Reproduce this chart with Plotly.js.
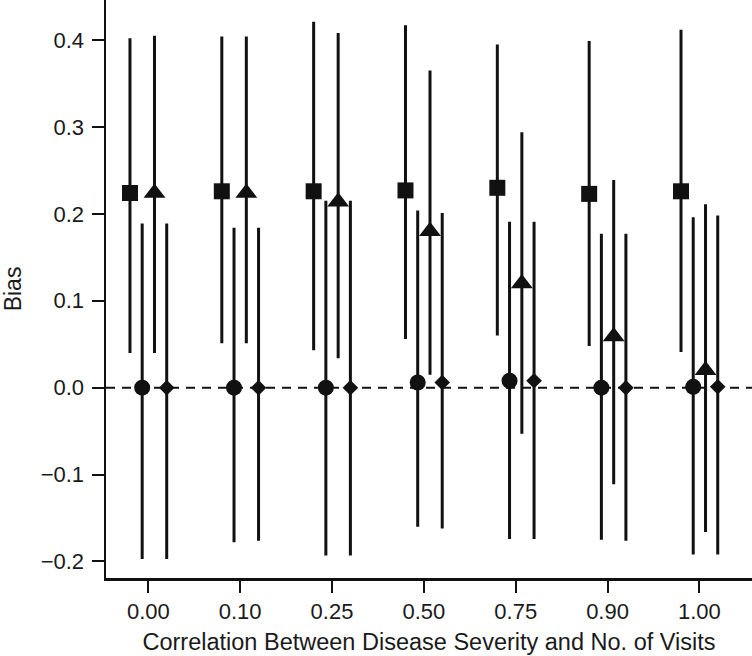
<!DOCTYPE html>
<html>
<head>
<meta charset="utf-8">
<script src="https://cdn.plot.ly/plotly-3.0.1.min.js"></script>
<style>
  html, body { margin: 0; padding: 0; background: #fff; }
  #myDiv { width: 752px; height: 656px; }
</style>
</head>
<body>
<div id="myDiv"></div>
<script>
// correlation levels (x categories)
var categories = ['0.00', '0.10', '0.25', '0.50', '0.75', '0.90', '1.00'];

// square series
var sqBias  = [0.224, 0.226, 0.226, 0.227, 0.230, 0.223, 0.226];
var sqUpper = [0.402, 0.404, 0.421, 0.417, 0.395, 0.399, 0.412];
var sqLower = [0.040, 0.051, 0.043, 0.056, 0.060, 0.048, 0.041];

// circle series
var ciBias  = [0.000, 0.000, 0.000, 0.006, 0.008, 0.000, 0.001];
var ciUpper = [0.189, 0.184, 0.215, 0.204, 0.191, 0.177, 0.196];
var ciLower = [-0.197, -0.178, -0.193, -0.160, -0.174, -0.175, -0.192];

// triangle series
var trBias  = [0.224, 0.224, 0.214, 0.180, 0.120, 0.059, 0.020];
var trUpper = [0.405, 0.404, 0.408, 0.365, 0.294, 0.239, 0.211];
var trLower = [0.040, 0.051, 0.034, 0.015, -0.053, -0.111, -0.166];

// diamond series
var diBias  = [0.000, 0.000, 0.000, 0.006, 0.008, 0.000, 0.001];
var diUpper = [0.189, 0.184, 0.215, 0.201, 0.191, 0.177, 0.198];
var diLower = [-0.197, -0.176, -0.193, -0.162, -0.174, -0.176, -0.192];

var yTicks = [-0.2, -0.1, 0.0, 0.1, 0.2, 0.3, 0.4];

function makeTrace(offset, bias, upper, lower, symbol, size) {
    var xs = [], plus = [], minus = [];
    for (var i = 0; i < categories.length; i++) {
        xs.push(i + offset);
        plus.push(upper[i] - bias[i]);
        minus.push(bias[i] - lower[i]);
    }
    return {
        type: 'scatter',
        mode: 'markers',
        x: xs,
        y: bias,
        marker: { symbol: symbol, size: size, color: '#111', line: { width: 0 } },
        error_y: {
            type: 'data', symmetric: false,
            array: plus, arrayminus: minus,
            color: '#111', thickness: 3, width: 0
        },
        showlegend: false,
        hoverinfo: 'y'
    };
}

var data = [
    makeTrace(-0.2, sqBias, sqUpper, sqLower, 'square', 16),
    makeTrace(-0.067, ciBias, ciUpper, ciLower, 'circle', 16),
    makeTrace(0.067, trBias, trUpper, trLower, 'triangle-up', 19),
    makeTrace(0.2, diBias, diUpper, diLower, 'diamond', 12)
];

var fontFam = '"Liberation Sans", Arial, Helvetica, sans-serif';

var layout = {
    width: 752,
    height: 656,
    margin: { l: 106, r: 0, t: 0, b: 78 },
    paper_bgcolor: '#fff',
    plot_bgcolor: '#fff',
    font: { family: fontFam, size: 22, color: '#1a1a1a' },
    xaxis: {
        range: [-0.461, 6.573],
        tickmode: 'array',
        tickvals: [0, 1, 2, 3, 4, 5, 6],
        ticktext: categories,
        showgrid: false, zeroline: false,
        showline: true, linewidth: 2.5, linecolor: '#111',
        ticks: 'outside', ticklen: 12, tickwidth: 2, tickcolor: '#111',
        tickfont: { size: 22 },
        title: { text: 'Correlation Between Disease Severity and No. of Visits', font: { size: 23.5 }, standoff: 11 }
    },
    yaxis: {
        range: [-0.219, 0.4461],
        tickmode: 'array',
        tickvals: yTicks,
        tickformat: '.1f',
        showgrid: false, zeroline: false,
        showline: true, linewidth: 2.5, linecolor: '#111',
        ticks: 'outside', ticklen: 12, tickwidth: 2, tickcolor: '#111',
        tickfont: { size: 22 },
        ticklabelstandoff: 3,
        title: { text: 'Bias', font: { size: 23 }, standoff: 15 }
    },
    shapes: [{
        type: 'line', xref: 'paper', yref: 'y',
        x0: 0, x1: 1, y0: 0, y1: 0,
        line: { color: '#111', width: 2, dash: '9px,7px' },
        layer: 'below'
    }]
};

Plotly.newPlot('myDiv', data, layout, { displayModeBar: false, staticPlot: true });
</script>
</body>
</html>
